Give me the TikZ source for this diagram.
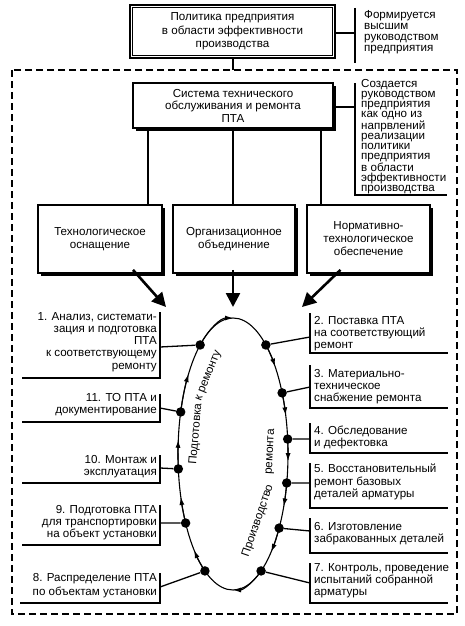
\documentclass[tikz,border=0pt]{standalone}
\usepackage{fontspec}
\setmainfont{Liberation Sans}
\usetikzlibrary{arrows.meta,shadows}
\begin{document}
\begin{tikzpicture}[x=1pt,y=-1pt,
  every node/.style={font=\fontsize{11.6}{12.5}\selectfont, inner sep=0pt},
  sbox/.style={draw, line width=1.8pt, fill=white, align=center,
    drop shadow={shadow xshift=3pt, shadow yshift=-3pt, opacity=1, fill=black}},
  note/.style={align=left, anchor=west},
  lbl/.style={font=\fontsize{11.6}{12.2}\selectfont},
  frame/.style={line width=1.1pt},
  conn/.style={line width=1.3pt},
  ell/.style={line width=1.1pt},
  dot/.style={circle, fill=black, minimum size=9.5pt},
  bigarrow/.style={line width=2.6pt, -{Triangle[length=14pt,width=14pt]}},
  midarrow/.style={ell, -{Latex[length=8pt,width=5pt]}}
]
\useasboundingbox (0,0) rectangle (464,626);

% dashed frame
\draw[line width=1.2pt, dash pattern=on 7pt off 4pt] (12,70) rectangle (457,614);

% top policy box (double frame)
\node[draw, line width=2.4pt, fill=white, align=center, minimum width=205pt, minimum height=53pt,
  font=\fontsize{11.6}{13.5}\selectfont] (pol) at (232.5,31.5)
  {Политика предприятия\\в области эффективности\\производства};
\draw[line width=0.9pt] ([shift={(4pt,-4pt)}]pol.north west) rectangle ([shift={(-4pt,4pt)}]pol.south east);
\coordinate (dtop) at (233,70);
\draw[conn] (pol.south -| dtop) -- (dtop);

% note 1
\draw[frame] (355,8) -- (355,63);
\coordinate (n1link) at (355,33);
\draw[frame] (pol.east |- n1link) -- (n1link);
\node[note, font=\fontsize{11.6}{11}\selectfont] (n1) at (364,32)
  {Формируется\\высшим\\руководством\\предприятия};

% system box
\node[sbox, minimum width=200pt, minimum height=45pt, font=\fontsize{11.6}{12.5}\selectfont] (sys) at (233,105.5)
  {Система технического\\обслуживания и ремонта\\ПТА};

% note 2
\draw[frame] (355,83) -- (355,195) -- (447,195);
\coordinate (n2link) at (355,107);
\draw[frame] (sys.east |- n2link) -- (n2link);
\node[note, font=\fontsize{11.6}{10}\selectfont] (n2) at (361,137)
  {Создается\\руководством\\предприятия\\как одно из\\напрвлений\\реализации\\политики\\предприятия\\в области\\эффективности\\производства};

% three boxes
\node[sbox, minimum width=124pt, minimum height=68pt, font=\fontsize{11.6}{13}\selectfont] (b1) at (100,239) {Технологическое\\оснащение};
\node[sbox, minimum width=122pt, minimum height=68pt, font=\fontsize{11.6}{13}\selectfont] (b2) at (234,239) {Организационное\\объединение};
\node[sbox, minimum width=123pt, minimum height=68pt, font=\fontsize{11.6}{13}\selectfont] (b3) at (368.5,239) {Нормативно-\\технологическое\\обеспечение};

\draw[conn] ([xshift=48pt]b1.north) -- ([xshift=48pt]b1.north |- sys.south);
\draw[conn] ([xshift=-1pt]b2.north) -- ([xshift=-1pt]b2.north |- sys.south);
\draw[conn] ([xshift=-47.5pt]b3.north) -- ([xshift=-47.5pt]b3.north |- sys.south);

% big arrows
\coordinate (t1) at (166,307);
\coordinate (t2) at (233,307);
\coordinate (t3) at (302,307);
\draw[bigarrow] ([xshift=33pt,yshift=4pt]b1.south) -- (t1);
\draw[bigarrow] ([xshift=-1pt,yshift=4pt]b2.south) -- (t2);
\draw[bigarrow] ([xshift=-28pt,yshift=4pt]b3.south) -- (t3);

% cycle ellipse
\coordinate (E) at (233,454);
\draw[ell] (E) ellipse [x radius=55pt, y radius=136pt];
\foreach \a/\b in {126.7/90, 53.3/40, 26.7/16.5, 6.3/-3, -12.3/-22.7, -33/-46, -59.3/-90,
                   -120.7/-135, -149.5/-161.6, -173.7/-186, 162/144}
  \draw[midarrow] (E) ++(\a:55pt and 136pt) arc[start angle=\a, end angle=\b, x radius=55pt, y radius=136pt];

\path (E) ++(126.7:55pt and 136pt) node[dot] (d1) {};
\path (E) ++(53.3:55pt and 136pt) node[dot] (d2) {};
\path (E) ++(26.7:55pt and 136pt) node[dot] (d3) {};
\path (E) ++(6.3:55pt and 136pt) node[dot] (d4) {};
\path (E) ++(-12.3:55pt and 136pt) node[dot] (d5) {};
\path (E) ++(-33:55pt and 136pt) node[dot] (d6) {};
\path (E) ++(-59.3:55pt and 136pt) node[dot] (d7) {};
\path (E) ++(-120.7:55pt and 136pt) node[dot] (d8) {};
\path (E) ++(-149.5:55pt and 136pt) node[dot] (d9) {};
\path (E) ++(-173.7:55pt and 136pt) node[dot] (d10) {};
\path (E) ++(162:55pt and 136pt) node[dot] (d11) {};

% rotated captions
\node[rotate=85] (prepa) at (196,434) {Подготовка};
\node[rotate=68] (prepb) at (209,376) {к ремонту};
\node[rotate=71] (proda) at (258,521) {Производство};
\node[rotate=87] (prodb) at (271,452) {ремонта};

% left labels
\node[lbl, anchor=east, align=right] (l1) at (157,342)
  {1. Анализ, системати-\\зация и подготовка\\ПТА\\к соответствующему\\ремонту};
\draw[frame] (160,312) -- (160,378) -- (22,378);
\coordinate (c1) at (160,347); \draw[conn] (c1) -- (d1);

\node[lbl, anchor=east, align=right] (l11) at (157,405) {11. ТО ПТА и\\документирование};
\draw[frame] (160,394) -- (160,422) -- (22,422);
\coordinate (c11) at (160,408); \draw[conn] (c11) -- (d11);

\node[lbl, anchor=east, align=right] (l10) at (157,467) {10. Монтаж и\\эксплуатация};
\draw[frame] (160,455) -- (160,483) -- (22,483);
\coordinate (c10) at (160,468); \draw[conn] (c10) -- (d10);

\node[lbl, anchor=east, align=right] (l9) at (157,522.5) {9. Подготовка ПТА\\для транспортировки\\на объект установки};
\draw[frame] (160,505) -- (160,545) -- (22,545);
\coordinate (c9) at (160,523); \draw[conn] (c9) -- (d9);

\node[lbl, anchor=east, align=right, font=\fontsize{11.6}{14}\selectfont] (l8) at (157,586) {8. Распределение ПТА\\по объектам установки};
\draw[frame] (160,573) -- (160,603) -- (20,603);
\coordinate (c8) at (160,587); \draw[conn] (c8) -- (d8);

% right labels
\node[lbl, anchor=west, align=left] (l2) at (314,333.5) {2. Поставка ПТА\\на соответствующий\\ремонт};
\draw[frame] (310,313) -- (310,353) -- (448,353);
\coordinate (c2) at (310,337); \draw[conn] (d2) -- (c2);

\node[lbl, anchor=west, align=left] (l3) at (314,386.5) {3. Материально-\\техническое\\снабжение ремонта};
\draw[frame] (310,365) -- (310,408) -- (448,408);
\coordinate (c3) at (310,387); \draw[conn] (d3) -- (c3);

\node[lbl, anchor=west, align=left] (l4) at (314,437.5) {4. Обследование\\и дефектовка};
\draw[frame] (310,423) -- (310,453) -- (448,453);
\coordinate (c4) at (310,439); \draw[conn] (d4) -- (c4);

\node[lbl, anchor=west, align=left] (l5) at (314,482) {5. Восстановительный\\ремонт базовых\\деталей арматуры};
\draw[frame] (310,463) -- (310,508) -- (448,508);
\coordinate (c5) at (310,483); \draw[conn] (d5) -- (c5);

\node[lbl, anchor=west, align=left] (l6) at (314,534) {6. Изготовление\\забракованных деталей};
\draw[frame] (310,518) -- (310,553) -- (448,553);
\coordinate (c6) at (310,531); \draw[conn] (d6) -- (c6);

\node[lbl, anchor=west, align=left] (l7) at (314,580.5) {7. Контроль, проведение\\испытаний собранной\\арматуры};
\draw[frame] (310,563) -- (310,603) -- (448,603);
\coordinate (c7) at (310,583); \draw[conn] (d7) -- (c7);
\end{tikzpicture}
\end{document}
